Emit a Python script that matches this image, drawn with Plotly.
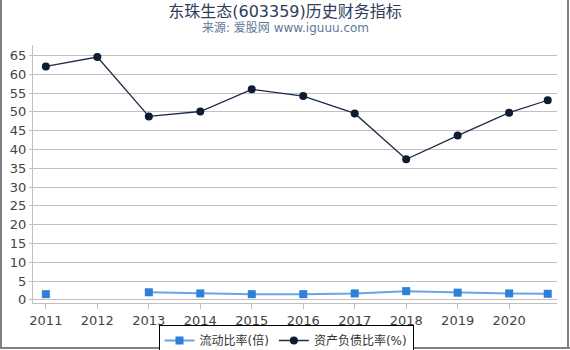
import plotly.graph_objects as go

years = [2011, 2012, 2013, 2014, 2015, 2016, 2017, 2018, 2019, 2020, 2020.75]
tick_vals = [2011, 2012, 2013, 2014, 2015, 2016, 2017, 2018, 2019, 2020]
tick_text = ["2011", "2012", "2013", "2014", "2015", "2016", "2017", "2018", "2019", "2020"]
current_ratio = [1.5, None, 2.0, 1.7, 1.5, 1.5, 1.7, 2.3, 1.9, 1.7, 1.6]
debt_ratio = [62.1, 64.6, 48.8, 50.1, 56.0, 54.2, 49.6, 37.4, 43.7, 49.8, 53.1]

FONT = "DejaVu Sans, Noto Sans CJK SC, sans-serif"

fig = go.Figure()
fig.add_trace(go.Scatter(
    x=years, y=current_ratio, name="流动比率(倍)", mode="lines+markers",
    line=dict(color="#6aa3e8", width=2),
    marker=dict(symbol="square", size=8, color="#2f7ed8"),
    connectgaps=False,
))
fig.add_trace(go.Scatter(
    x=years, y=debt_ratio, name="资产负债比率(%)", mode="lines+markers",
    line=dict(color="#1c2c48", width=1.3),
    marker=dict(symbol="circle", size=8, color="#0d1b33"),
))

W, H = 570, 350
L, R, T, B = 33, 13, 45, 47
pw, ph = W - L - R, H - T - B

def px(x):
    return (x - L) / pw

def py(y):
    return (H - B - y) / ph

fig.update_layout(
    width=W, height=H,
    margin=dict(l=L, r=R, t=T, b=B, autoexpand=False),
    paper_bgcolor="white", plot_bgcolor="white",
    font=dict(family=FONT, size=13, color="#444444"),
    title=dict(text="东珠生态(603359)历史财务指标", x=0.5, xanchor="center",
               y=1 - 11 / H, yanchor="middle",
               font=dict(size=16, color="#2d3c58", family=FONT)),
    annotations=[dict(text="来源: 爱股网 www.iguuu.com", xref="paper", yref="paper",
                      x=px(285), y=py(28), xanchor="center", yanchor="middle",
                      showarrow=False, font=dict(size=12, color="#5f7899", family=FONT))],
    showlegend=True,
    legend=dict(orientation="h", x=px(286), xanchor="center", y=py(325), yanchor="top",
                bordercolor="#000000", borderwidth=1, font=dict(size=12, color="#333333"),
                itemwidth=30, tracegroupgap=0, bgcolor="white"),
    shapes=[
        dict(type="line", xref="paper", yref="paper", x0=px(1), x1=px(1), y0=py(0), y1=py(348),
             line=dict(color="#7f7f7f", width=2)),
        dict(type="line", xref="paper", yref="paper", x0=px(568), x1=px(568), y0=py(0), y1=py(348),
             line=dict(color="#7f7f7f", width=2)),
        dict(type="line", xref="paper", yref="paper", x0=px(0), x1=px(570), y0=py(348), y1=py(348),
             line=dict(color="#7f7f7f", width=2)),
    ],
)
fig.update_xaxes(
    range=[2010.75, 2020.93], tickmode="array", tickvals=tick_vals, ticktext=tick_text,
    showgrid=False, showline=True, linecolor="#c0c0c0", linewidth=1,
    ticks="outside", ticklen=5, tickcolor="#c0c0c0", zeroline=False,
    tickfont=dict(size=13, color="#444444"),
)
fig.update_yaxes(
    range=[-0.85, 67.8], tickmode="array", tickvals=list(range(0, 70, 5)),
    showgrid=True, gridcolor="#c0c0c0", gridwidth=1,
    showline=True, linecolor="#c0c0c0", linewidth=1,
    ticks="outside", ticklen=3, tickcolor="#c0c0c0", zeroline=False,
    tickfont=dict(size=13, color="#444444"), automargin=False,
)

fig.write_html("out.html")
